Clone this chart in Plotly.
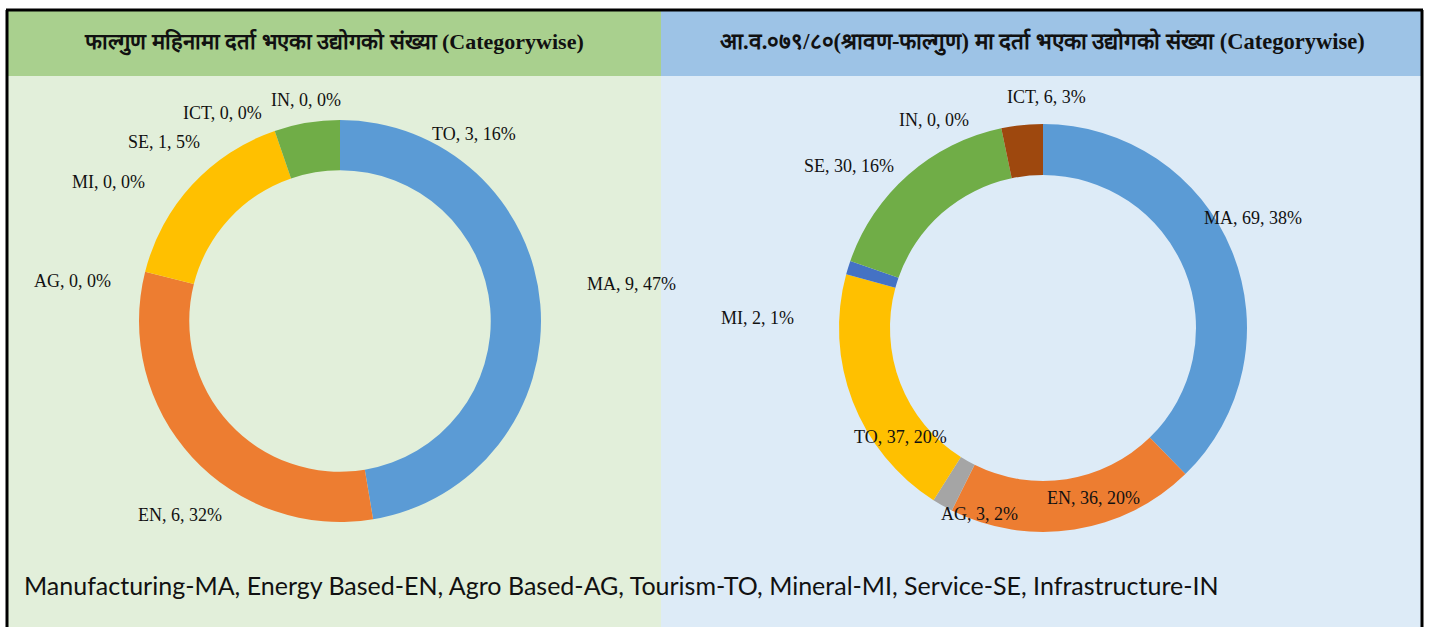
import plotly.graph_objects as go

W, H = 1429, 627

# ---------------- data ----------------
left_title = "फाल्गुण महिनामा दर्ता भएका उद्योगको संख्या (Categorywise)"
right_title = "आ.व.०७९/८०(श्रावण-फाल्गुण) मा दर्ता भएका उद्योगको संख्या (Categorywise)"
footnote = "Manufacturing-MA, Energy Based-EN, Agro Based-AG, Tourism-TO, Mineral-MI, Service-SE, Infrastructure-IN"

left_categories = ["MA", "EN", "AG", "TO", "MI", "SE", "ICT", "IN"]
left_values = [9, 6, 0, 3, 0, 1, 0, 0]
left_pct = [47, 32, 0, 16, 0, 5, 0, 0]

right_categories = ["MA", "EN", "AG", "TO", "MI", "SE", "IN", "ICT"]
right_values = [69, 36, 3, 37, 2, 30, 0, 6]
right_pct = [38, 20, 2, 20, 1, 16, 0, 3]

category_colors = {
    "MA": "#5b9bd5", "EN": "#ed7d31", "AG": "#a5a5a5", "TO": "#ffc000",
    "MI": "#4472c4", "SE": "#70ad47", "IN": "#255e91", "ICT": "#9e480e",
}

# label placement (pixel centres) as in the reference, keyed by category
left_label_pos = {
    "MA": (631, 284), "EN": (180, 515), "AG": (72, 281), "TO": (474, 134),
    "MI": (108, 182), "SE": (164, 142), "ICT": (222, 113), "IN": (306, 100),
}
right_label_pos = {
    "MA": (1253, 218), "EN": (1093, 498), "AG": (980, 514), "TO": (900, 437),
    "MI": (757, 318), "SE": (849, 166), "IN": (934, 120), "ICT": (1046, 97),
}


def px(x):
    return x / W


def py(y):
    return 1 - y / H


fig = go.Figure()

# donut geometry (pixels): centre and outer radius
lc, lr = (340, 321), 201
rc, rr = (1043, 328), 204

fig.add_trace(go.Pie(
    labels=left_categories, values=left_values, sort=False, direction="clockwise",
    rotation=0, hole=0.75,
    marker=dict(colors=[category_colors[c] for c in left_categories], line=dict(width=0)),
    textinfo="none", hoverinfo="label+value+percent", showlegend=False,
    domain=dict(x=[px(lc[0] - lr), px(lc[0] + lr)], y=[py(lc[1] + lr), py(lc[1] - lr)]),
))
fig.add_trace(go.Pie(
    labels=right_categories, values=right_values, sort=False, direction="clockwise",
    rotation=0, hole=0.75,
    marker=dict(colors=[category_colors[c] for c in right_categories], line=dict(width=0)),
    textinfo="none", hoverinfo="label+value+percent", showlegend=False,
    domain=dict(x=[px(rc[0] - rr), px(rc[0] + rr)], y=[py(rc[1] + rr), py(rc[1] - rr)]),
))

label_font = dict(family="Liberation Serif, DejaVu Serif, serif", size=18, color="#111111")
annotations = []
for cats, vals, pcts, pos in [
    (left_categories, left_values, left_pct, left_label_pos),
    (right_categories, right_values, right_pct, right_label_pos),
]:
    for c, v, p in zip(cats, vals, pcts):
        x, y = pos[c]
        annotations.append(dict(
            x=px(x), y=py(y), xref="paper", yref="paper", showarrow=False,
            xanchor="center", yanchor="middle", text=f"{c}, {v}, {p}%", font=label_font,
        ))

title_font = dict(family="Liberation Serif, Noto Serif, serif", size=22, color="#111111")
annotations.append(dict(x=px(334), y=py(42), xref="paper", yref="paper", showarrow=False,
                        xanchor="center", yanchor="middle", text=f"<b>{left_title}</b>", font=title_font))
annotations.append(dict(x=px(1042), y=py(42), xref="paper", yref="paper", showarrow=False,
                        xanchor="center", yanchor="middle", text=f"<b>{right_title}</b>",
                        font=dict(title_font, size=22.5)))
annotations.append(dict(x=px(22), y=py(585), xref="paper", yref="paper", showarrow=False,
                        xanchor="left", yanchor="middle", text=footnote,
                        font=dict(family="Lato, Open Sans, sans-serif", size=25, color="#111111")))

shapes = [
    # panel backgrounds
    dict(type="rect", xref="paper", yref="paper", x0=px(7), x1=px(661), y0=0, y1=py(76),
         fillcolor="#e2efda", line=dict(width=0), layer="below"),
    dict(type="rect", xref="paper", yref="paper", x0=px(661), x1=px(1422), y0=0, y1=py(76),
         fillcolor="#ddebf7", line=dict(width=0), layer="below"),
    # headers
    dict(type="rect", xref="paper", yref="paper", x0=px(7), x1=px(661), y0=py(76), y1=py(11),
         fillcolor="#a9d08e", line=dict(width=0), layer="below"),
    dict(type="rect", xref="paper", yref="paper", x0=px(661), x1=px(1422), y0=py(76), y1=py(11),
         fillcolor="#9dc3e6", line=dict(width=0), layer="below"),
    # outer frame
    dict(type="line", xref="paper", yref="paper", x0=px(6), x1=px(1423), y0=py(10), y1=py(10),
         line=dict(color="black", width=3)),
    dict(type="line", xref="paper", yref="paper", x0=px(7), x1=px(7), y0=py(10), y1=-0.02,
         line=dict(color="black", width=3)),
    dict(type="line", xref="paper", yref="paper", x0=px(1422), x1=px(1422), y0=py(10), y1=-0.02,
         line=dict(color="black", width=3)),
]

fig.update_layout(
    width=W, height=H, margin=dict(l=0, r=0, t=0, b=0),
    paper_bgcolor="white", plot_bgcolor="white",
    shapes=shapes, annotations=annotations,
)

fig.write_html(
    "out.html",
    config={"displayModeBar": False},
    post_script="document.body.style.margin='0px';document.body.style.overflow='hidden';",
)
